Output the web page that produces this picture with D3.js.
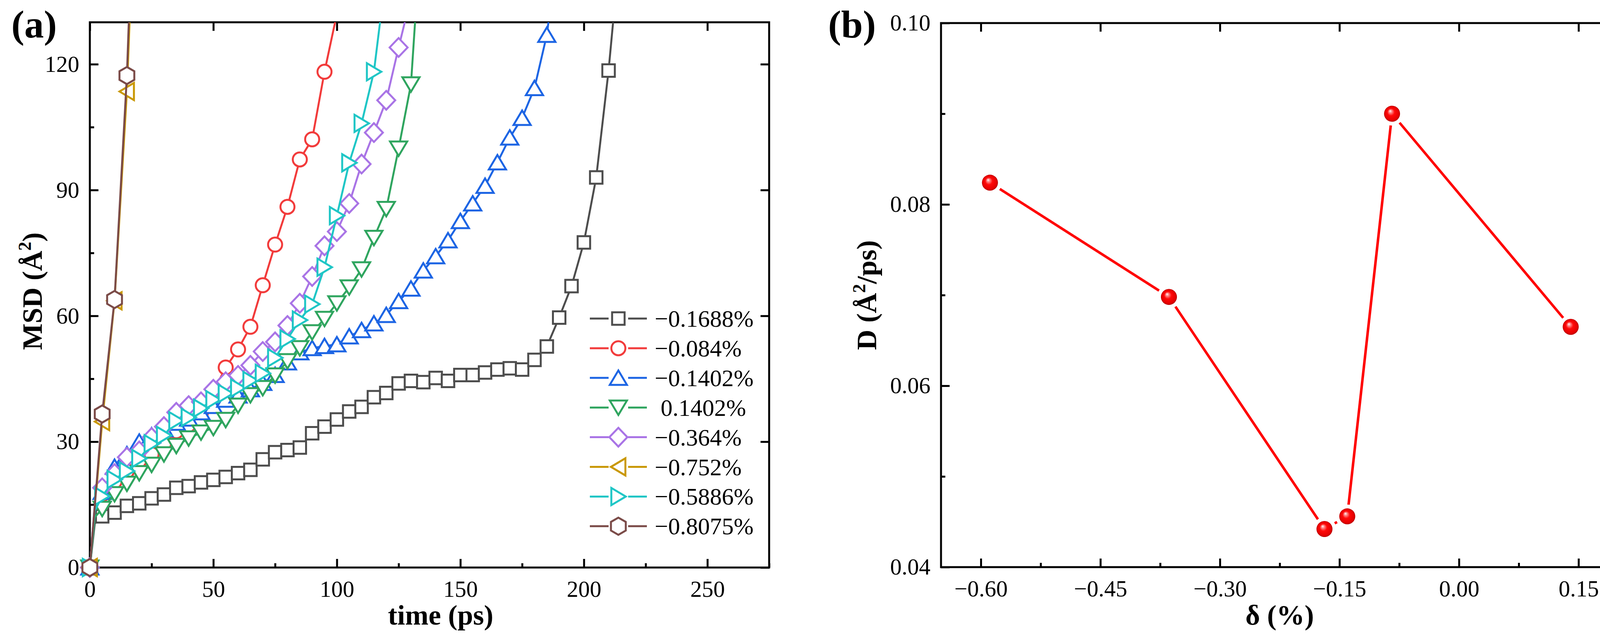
<!DOCTYPE html>
<html>
<head>
<meta charset="utf-8">
<script src="https://cdn.jsdelivr.net/npm/d3@7"></script>
<style>
  body { margin: 0; background: #fff; }
  text { font-family: "Liberation Serif", "Times New Roman", serif; }
</style>
</head>
<body>
<div id="chart"></div>
<script>
// ---------- data: panel (a) MSD vs time ----------
const msdTime = [0, 2, 5, 10, 15, 20, 25, 30, 35, 40, 45, 50, 55, 60, 65, 70, 75, 80, 85, 90, 95, 100,
  105, 110, 115, 120, 125, 130, 135, 140, 145, 150, 155, 160, 165, 170, 175, 180, 185, 190, 195, 200, 205, 210, 215];

const msd_m01688 = [0, 10.5, 12.2, 13.1, 14.7, 15.3, 16.5, 17.4, 19.0, 19.4, 20.3, 20.9, 21.6, 22.5, 23.3, 25.8,
  27.5, 28.0, 28.6, 32.0, 33.6, 35.3, 37.2, 38.3, 40.6, 41.6, 43.9, 44.5, 44.2, 45.2, 44.5, 45.9, 45.9, 46.5,
  47.2, 47.5, 47.2, 49.5, 52.7, 59.6, 67.1, 77.5, 93.0, 118.5, 150];
const msd_m0084 = [0, 14, 17.5, 20.5, 23, 25.5, 27, 29.5, 32.5, 34, 37, 42, 47.7, 52, 57.4, 67.3, 77, 86, 97.3,
  102.1, 118.2, 132];
const msd_m01402 = [0, 14.5, 18, 24, 27, 30, 31.5, 33, 34.5, 35.5, 37, 38.5, 40, 41, 42.5, 44, 45.9, 48.9, 51.3,
  52.3, 52.8, 53.2, 55.1, 56.6, 58.2, 60.2, 63.5, 66.5, 70.8, 74.2, 78, 82.6, 86.8, 91, 96.6, 102.5, 107.2,
  114.3, 127, 150];
const msd_p01402 = [0, 12, 14, 17.5, 20, 22.5, 24.5, 27, 29, 30.8, 32.2, 33.3, 35.2, 38.6, 41.1, 42.8, 45.8, 49.2,
  52.3, 56.1, 59.3, 63, 66.8, 71.1, 78.6, 85.5, 99.9, 115.2, 160];
const msd_m0364 = [0, 15, 19, 22.4, 26.3, 27.8, 31, 33.6, 37, 38.6, 39.5, 42.5, 44.3, 45.8, 48.2, 51.5, 53.8,
  57.7, 63, 69.4, 76.7, 80.1, 86.8, 96.2, 103.7, 111.4, 124, 136];
const msd_m0752 = [0, null, 34.8, 63.6, 113.5, 190];
const msd_m05886 = [0, 13.5, 17, 21, 23, 26, 29.5, 31.5, 35, 35.8, 38, 40, 41.5, 42.8, 44.6, 46.3, 50, 54.5, 59,
  62.8, 71.6, 83.9, 96.5, 105.9, 118.2, 142];
const msd_m08075 = [0, null, 36.6, 63.9, 117.3, 200];

const seriesLabels = ["\u22120.1688%", "\u22120.084%", "\u22120.1402%", " 0.1402%", "\u22120.364%",
  "\u22120.752%", "\u22120.5886%", "\u22120.8075%"];
const seriesValues = [msd_m01688, msd_m0084, msd_m01402, msd_p01402, msd_m0364, msd_m0752, msd_m05886, msd_m08075];

const xTicksA = [0, 50, 100, 150, 200, 250];
const xMinorA = [25, 75, 125, 175, 225, 275];
const yTicksA = [0, 30, 60, 90, 120];
const yMinorA = [15, 45, 75, 105];

// ---------- data: panel (b) D vs strain ----------
const deltaPct = [-0.5886, -0.364, -0.1688, -0.1402, -0.084, 0.1402];
const diffD = [0.0824, 0.0698, 0.0442, 0.0456, 0.0900, 0.0665];

const xTicksB = [-0.60, -0.45, -0.30, -0.15, 0.00, 0.15];
const xMinorB = [-0.525, -0.375, -0.225, -0.075, 0.075];
const yTicksB = [0.04, 0.06, 0.08, 0.10];
const yMinorB = [0.05, 0.07, 0.09];

// ---------- styles ----------
const colors = ["#4d4d4d", "#f23b3b", "#1d65e4", "#2fa55f", "#a974e6", "#c99804", "#1fc6c6", "#7b4b48"];
const shapes = ["square", "circle", "up", "down", "diamond", "left", "right", "hexagon"];

const width = 4168;
const height = 1640;

const svg = d3.select("#chart")
    .append("svg")
    .attr("width", width)
    .attr("height", height);

function markerPath(shape) {
    switch (shape) {
        case "square": return "M-16,-16H16V16H-16Z";
        case "circle": return "M18,0A18,18 0 1,1 -18,0A18,18 0 1,1 18,0Z";
        case "up": return "M0,-19L22,18L-22,18Z";
        case "down": return "M0,19L22,-18L-22,-18Z";
        case "diamond": return "M0,-24L23,0L0,24L-23,0Z";
        case "left": return "M-19,0L18,-22L18,22Z";
        case "right": return "M19,0L-18,-22L-18,22Z";
        case "hexagon": return "M0,-22L19,-11L19,11L0,22L-19,11L-19,-11Z";
    }
}

function frameAndAxes(x, y, xMajor, xMinor, yMajor, yMinor, xFmt, yFmt) {
    const [x0, x1] = x.range();
    const [y0, y1] = y.range();
    const g = svg.append("g");

    const axes = [
        {axis: d3.axisBottom(x).tickValues(xMajor).tickSize(-22).tickPadding(33).tickFormat(xFmt), t: `translate(0,${y0})`},
        {axis: d3.axisBottom(x).tickValues(xMinor).tickSize(-11).tickFormat(""), t: `translate(0,${y0})`},
        {axis: d3.axisTop(x).tickValues(xMajor).tickSize(-22).tickFormat(""), t: `translate(0,${y1})`},
        {axis: d3.axisLeft(y).tickValues(yMajor).tickSize(-22).tickPadding(27).tickFormat(yFmt), t: `translate(${x0},0)`},
        {axis: d3.axisLeft(y).tickValues(yMinor).tickSize(-11).tickFormat(""), t: `translate(${x0},0)`},
        {axis: d3.axisRight(y).tickValues(yMajor).tickSize(-22).tickFormat(""), t: `translate(${x1},0)`}
    ];
    axes.forEach(function(a) {
        const ag = g.append("g")
            .attr("transform", a.t)
            .call(a.axis.tickSizeOuter(0));
        ag.attr("font-family", null);
        ag.select(".domain").remove();
        ag.selectAll(".tick line").attr("stroke", "#000").attr("stroke-width", 5);
        ag.selectAll(".tick text")
            .attr("fill", "#000")
            .style("font-family", "'Liberation Serif', 'Times New Roman', serif")
            .attr("font-size", 59);
    });

    g.append("rect")
        .attr("x", x0).attr("y", y1)
        .attr("width", x1 - x0).attr("height", y0 - y1)
        .attr("fill", "none")
        .attr("stroke", "#000")
        .attr("stroke-width", 5);
}

// ================= panel (a) =================
const xA = d3.scaleLinear().domain([0, 275]).range([230, 1969]);
const yA = d3.scaleLinear().domain([0, 130]).range([1452, 57]);

svg.append("defs").append("clipPath")
    .attr("id", "clipA")
    .append("rect")
    .attr("x", 230).attr("y", 57)
    .attr("width", 1969 - 230).attr("height", 1452 - 57);

frameAndAxes(xA, yA, xTicksA, xMinorA, yTicksA, yMinorA, d3.format("d"), d3.format("d"));

const lineA = d3.line()
    .x(function(d) { return xA(d.t); })
    .y(function(d) { return yA(d.v); });

seriesValues.forEach(function(vals, i) {
    const pts = vals.map(function(v, k) { return {t: msdTime[k], v: v}; })
        .filter(function(d) { return d.v !== null; });

    svg.append("path")
        .datum(pts)
        .attr("clip-path", "url(#clipA)")
        .attr("d", lineA)
        .attr("fill", "none")
        .attr("stroke", colors[i])
        .attr("stroke-width", 5)
        .attr("stroke-linejoin", "round");

    svg.append("g").selectAll("path")
        .data(pts.filter(function(d) { return d.t % 5 === 0 && d.v <= 130; }))
        .enter()
        .append("path")
            .attr("transform", function(d) { return `translate(${xA(d.t)},${yA(d.v)})`; })
            .attr("d", markerPath(shapes[i]))
            .attr("fill", "#fff")
            .attr("stroke", colors[i])
            .attr("stroke-width", 5);
});

// legend
const legend = svg.append("g");
seriesLabels.forEach(function(label, i) {
    const ly = 815 + i * 75.9;
    legend.append("line")
        .attr("x1", 1510).attr("x2", 1558).attr("y1", ly).attr("y2", ly)
        .attr("stroke", colors[i]).attr("stroke-width", 5);
    legend.append("line")
        .attr("x1", 1608).attr("x2", 1656).attr("y1", ly).attr("y2", ly)
        .attr("stroke", colors[i]).attr("stroke-width", 5);
    legend.append("path")
        .attr("transform", `translate(1583,${ly})`)
        .attr("d", markerPath(shapes[i]))
        .attr("fill", "#fff")
        .attr("stroke", colors[i])
        .attr("stroke-width", 5);
    legend.append("text")
        .attr("x", 1676)
        .attr("y", ly + 21)
        .attr("font-size", 61)
        .style("white-space", "pre")
        .text(label);
});

const yLabelA = svg.append("text")
    .attr("transform", "translate(107,745) rotate(-90)")
    .attr("text-anchor", "middle")
    .attr("font-size", 72)
    .attr("font-weight", "bold");
yLabelA.append("tspan").text("MSD (Å");
yLabelA.append("tspan").attr("dy", -28).attr("font-size", 46).text("2");
yLabelA.append("tspan").attr("dy", 28).text(")");

svg.append("text")
    .attr("x", 1128).attr("y", 1598)
    .attr("text-anchor", "middle")
    .attr("font-size", 72)
    .attr("font-weight", "bold")
    .text("time (ps)");

svg.append("text")
    .attr("x", 29).attr("y", 96)
    .attr("font-size", 100)
    .attr("font-weight", "bold")
    .text("(a)");

// ================= panel (b) =================
const xB = d3.scaleLinear().domain([-0.65, 0.20]).range([2409, 4143]);
const yB = d3.scaleLinear().domain([0.04, 0.10]).range([1451, 59]);

frameAndAxes(xB, yB, xTicksB, xMinorB, yTicksB, yMinorB, d3.format(".2f"), d3.format(".2f"));

const grad = svg.select("defs").append("radialGradient")
    .attr("id", "sphere")
    .attr("cx", "0.5").attr("cy", "0.5").attr("r", "0.5")
    .attr("fx", "0.38").attr("fy", "0.32");
grad.append("stop").attr("offset", "0%").attr("stop-color", "#ffffff");
grad.append("stop").attr("offset", "18%").attr("stop-color", "#ff8c8c");
grad.append("stop").attr("offset", "45%").attr("stop-color", "#ff0a0a");
grad.append("stop").attr("offset", "85%").attr("stop-color", "#e60000");
grad.append("stop").attr("offset", "100%").attr("stop-color", "#b80000");

const ptsB = deltaPct.map(function(d, i) { return {x: xB(d), y: yB(diffD[i])}; });
const gap = 30;

svg.append("g").selectAll("line")
    .data(d3.pairs(ptsB))
    .enter()
    .append("line")
        .attr("x1", function(p) { const a = p[0], b = p[1], L = Math.hypot(b.x - a.x, b.y - a.y); return a.x + (b.x - a.x) * gap / L; })
        .attr("y1", function(p) { const a = p[0], b = p[1], L = Math.hypot(b.x - a.x, b.y - a.y); return a.y + (b.y - a.y) * gap / L; })
        .attr("x2", function(p) { const a = p[0], b = p[1], L = Math.hypot(b.x - a.x, b.y - a.y); return b.x - (b.x - a.x) * gap / L; })
        .attr("y2", function(p) { const a = p[0], b = p[1], L = Math.hypot(b.x - a.x, b.y - a.y); return b.y - (b.y - a.y) * gap / L; })
        .attr("stroke", "#ff0000")
        .attr("stroke-width", 6.5);

svg.append("g").selectAll("circle")
    .data(ptsB)
    .enter()
    .append("circle")
        .attr("cx", function(d) { return d.x; })
        .attr("cy", function(d) { return d.y; })
        .attr("r", 20.5)
        .attr("fill", "url(#sphere)");

const yLabelB = svg.append("text")
    .attr("transform", "translate(2243,755) rotate(-90)")
    .attr("text-anchor", "middle")
    .attr("font-size", 72)
    .attr("font-weight", "bold");
yLabelB.append("tspan").text("D (Å");
yLabelB.append("tspan").attr("dy", -28).attr("font-size", 46).text("2");
yLabelB.append("tspan").attr("dy", 28).text("/ps)");

svg.append("text")
    .attr("x", 3276).attr("y", 1598)
    .attr("text-anchor", "middle")
    .attr("font-size", 72)
    .attr("font-weight", "bold")
    .text("δ (%)");

svg.append("text")
    .attr("x", 2120).attr("y", 96)
    .attr("font-size", 100)
    .attr("font-weight", "bold")
    .text("(b)");
</script>
</body>
</html>
